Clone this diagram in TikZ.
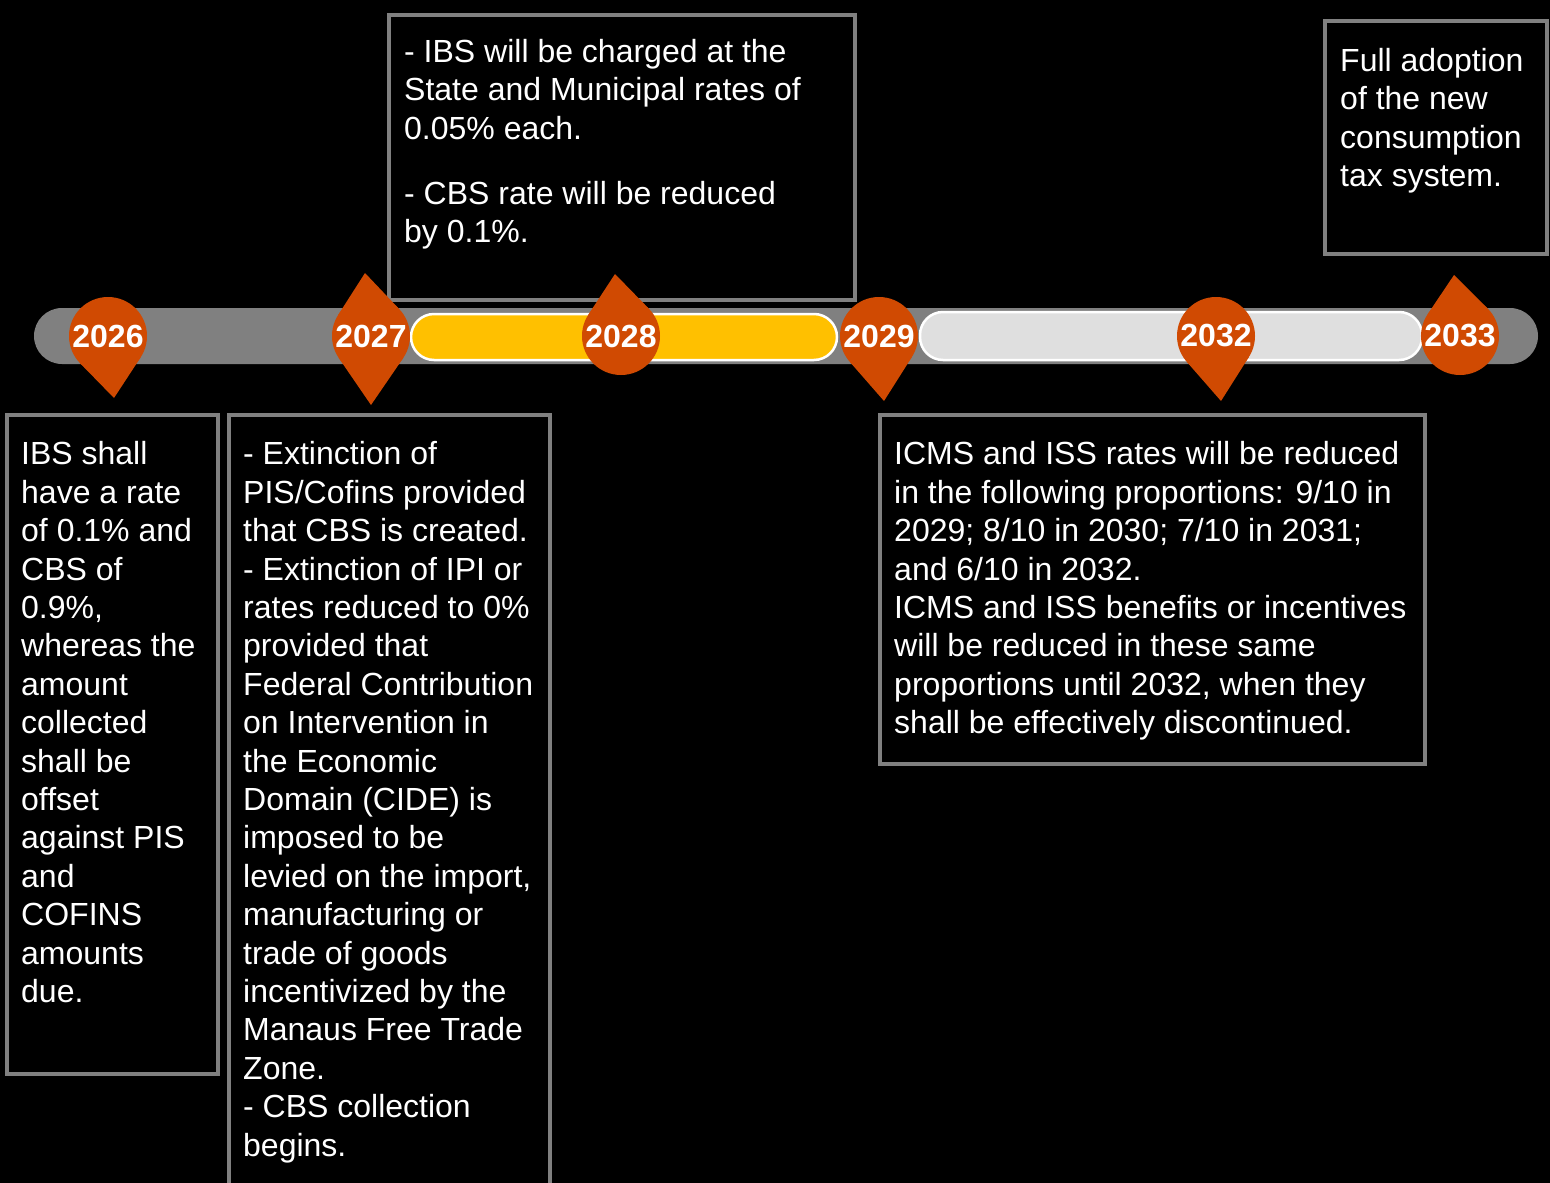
\documentclass[tikz,border=0pt]{standalone}
\usepackage{fontspec}
\setmainfont{Liberation Sans}
\usetikzlibrary{calc}

\definecolor{pinorange}{RGB}{208,74,2}
\definecolor{baryellow}{RGB}{255,192,0}
\definecolor{barlight}{RGB}{223,223,223}
\definecolor{boxgray}{RGB}{128,128,128}

\tikzset{
  notebox/.style={draw=boxgray, line width=4pt},
  notetext/.style={anchor=north west, align=left, inner sep=0pt, text=white,
    font=\fontsize{32}{38.4}\selectfont, execute at begin node=\strut},
  yearpin/.style={circle, fill=pinorange, minimum size=78pt, inner sep=0pt,
    outer sep=0pt, text=white, font=\fontsize{32}{32}\selectfont\bfseries},
  phasebar/.style={draw=white, line width=2.5pt, rounded corners=23pt}
}

\begin{document}
\begin{tikzpicture}[x=1pt,y=-1pt]
\fill[black] (0,0) rectangle (1550,1183);
\useasboundingbox (0,0) rectangle (1550,1183);

% text boxes
\draw[notebox] (6.5,415) rectangle (217.5,1074);
\draw[notebox] (229,415) rectangle (550,1200);
\draw[notebox] (389,14.5) rectangle (855,300);
\draw[notebox] (880,415) rectangle (1425,764);
\draw[notebox] (1325,21) rectangle (1547,254);

% time line
\fill[boxgray, rounded corners=28pt] (34,308) rectangle (1538,364);
\draw[phasebar, fill=baryellow] (411,314) rectangle (837,360);
\draw[phasebar, fill=barlight] (920,312) rectangle (1422,360);

% year markers
\foreach \yr/\px in {2026/108, 2027/371, 2028/621, 2029/879, 2032/1216, 2033/1460}
  \node[yearpin] (y\yr) at (\px,336) {\yr};

\coordinate (dn2026) at (114,398);
\coordinate (up2027) at (365,273);
\coordinate (dn2027) at (371,405);
\coordinate (up2028) at (615,274);
\coordinate (dn2029) at (884,401);
\coordinate (dn2032) at (1221,401);
\coordinate (up2033) at (1454,275);

\foreach \yr/\tip in {2026/dn2026, 2027/up2027, 2027/dn2027, 2028/up2028,
                      2029/dn2029, 2032/dn2032, 2033/up2033}
  \fill[pinorange] (\tip)
    -- (tangent cs:node=y\yr,point={(\tip)},solution=1)
    -- (tangent cs:node=y\yr,point={(\tip)},solution=2) -- cycle;

% notes
\node[notetext] (note2026) at (21,441.5) {IBS shall\\have a rate\\of 0.1\% and\\CBS of\\0.9\%,\\whereas the\\amount\\collected\\shall be\\offset\\against PIS\\and\\COFINS\\amounts\\due.};
\node[notetext] (note2027) at (243,441.5) {- Extinction of\\PIS/Cofins provided\\that CBS is created.\\- Extinction of IPI or\\rates reduced to 0\%\\provided that\\Federal Contribution\\on Intervention in\\the Economic\\Domain (CIDE) is\\imposed to be\\levied on the import,\\manufacturing or\\trade of goods\\incentivized by the\\Manaus Free Trade\\Zone.\\- CBS collection\\begins.};
\node[notetext] (note2028) at (404,39) {- IBS will be charged at the\\State and Municipal rates of\\0.05\% each.\\[26.6pt]- CBS rate will be reduced\\by 0.1\%.};
\node[notetext] (note2029) at (894,441.5) {ICMS and ISS rates will be reduced\\in the following proportions: 9/10 in\\2029; 8/10 in 2030; 7/10 in 2031;\\and 6/10 in 2032.\\ICMS and ISS benefits or incentives\\will be reduced in these same\\proportions until 2032, when they\\shall be effectively discontinued.};
\node[notetext] (note2033) at (1340,48) {Full adoption\\of the new\\consumption\\tax system.};
\end{tikzpicture}
\end{document}
